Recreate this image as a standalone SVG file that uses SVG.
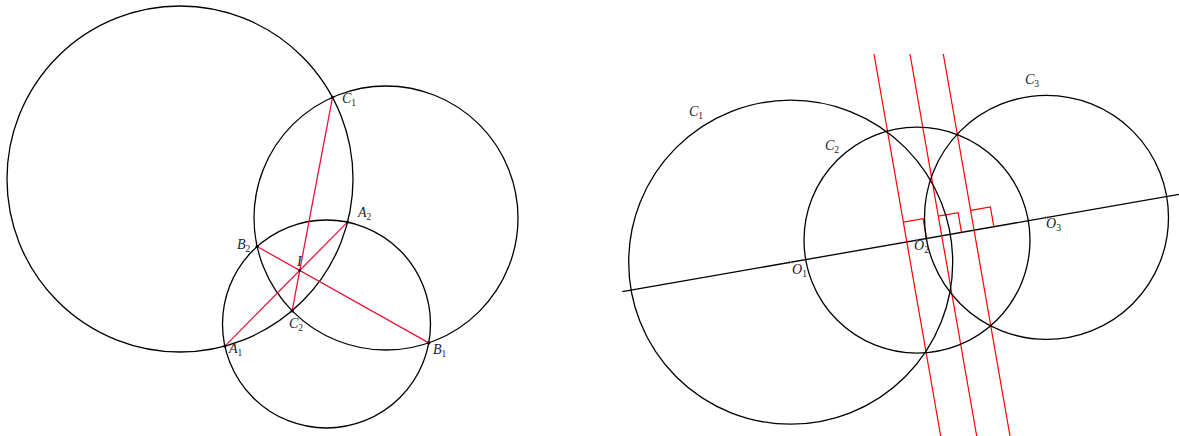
<svg xmlns="http://www.w3.org/2000/svg" width="1179" height="436" viewBox="0 0 1179 436">
<style>
.c{fill:none;stroke:#000;stroke-width:1.3}
.rl{stroke:#e8143c;stroke-width:1.3;fill:none}
.rr{stroke:#ff0000;stroke-width:1.2;fill:none}
.ax{stroke:#000;stroke-width:1.3}
.dot{fill:#000}
.lb{font-family:"Liberation Serif",serif;font-style:italic;font-size:14px;fill:#222}
.sb{font-size:9.5px;font-style:normal}
.mk{stroke:#777;stroke-width:0.8}
</style>
<rect width="1179" height="436" fill="#fff"/>
<!-- left figure -->
<g id="circle-big"><circle class="c" cx="180" cy="179" r="173"/></g>
<g id="circle-right"><circle class="c" cx="386" cy="218" r="132"/></g>
<g id="circle-bottom"><circle class="c" cx="326.5" cy="324" r="104"/></g>
<g id="connectors">
<line class="rl" x1="332.5" y1="97.3" x2="292.1" y2="310.8"/>
<line class="rl" x1="224.9" y1="346.1" x2="347.5" y2="222.1"/>
<line class="rl" x1="257.1" y1="246.5" x2="428.8" y2="342.9"/>
<line class="ax" x1="622.3" y1="291.7" x2="1179" y2="194.3"/>
<line class="rr" x1="874" y1="54" x2="940.7" y2="436"/>
<line class="rr" x1="910" y1="54" x2="976.7" y2="436"/>
<line class="rr" x1="943.3" y1="54" x2="1010" y2="436"/>
<polyline class="rr" points="903.4,222.2 923.1,218.7 926.5,238.5"/>
<polyline class="rr" points="938.4,216.1 958.1,212.7 961.5,232.4"/>
<polyline class="rr" points="970.7,210.4 990.4,206.9 993.8,226.7"/>
</g>
<g id="pt-C1"><circle class="dot" cx="332.5" cy="97.3" r="1.6"/><text class="lb" x="342" y="103">C<tspan class="sb" dy="3">1</tspan></text></g>
<g id="pt-A2"><circle class="dot" cx="347.5" cy="222.1" r="1.6"/><text class="lb" x="358" y="217">A<tspan class="sb" dy="3">2</tspan></text></g>
<g id="pt-B2"><circle class="dot" cx="257.1" cy="246.5" r="1.6"/><text class="lb" x="237" y="249">B<tspan class="sb" dy="3">2</tspan></text></g>
<g id="pt-I"><circle class="dot" cx="299.7" cy="270.4" r="1.3"/><text class="lb" x="297" y="266">I</text></g>
<g id="pt-C2"><circle class="dot" cx="292.1" cy="310.8" r="1.6"/><text class="lb" x="289" y="328">C<tspan class="sb" dy="3">2</tspan></text></g>
<g id="pt-A1"><circle class="dot" cx="224.9" cy="346.1" r="1.6"/><text class="lb" x="229" y="353">A<tspan class="sb" dy="3">1</tspan></text></g>
<g id="pt-B1"><circle class="dot" cx="428.8" cy="342.9" r="1.6"/><text class="lb" x="433" y="354">B<tspan class="sb" dy="3">1</tspan></text></g>
<!-- right figure -->
<g id="circle-C1"><circle class="c" cx="790.7" cy="262.2" r="162"/><text class="lb" x="689" y="116">C<tspan class="sb" dy="3">1</tspan></text></g>
<g id="circle-C2"><circle class="c" cx="917" cy="240.1" r="113"/><text class="lb" x="825" y="150">C<tspan class="sb" dy="3">2</tspan></text></g>
<g id="circle-C3"><circle class="c" cx="1046.5" cy="217.4" r="122"/><text class="lb" x="1025" y="84">C<tspan class="sb" dy="3">3</tspan></text></g>
<g id="pt-O1"><path class="mk" d="M789.2,260.7l3,3M792.2,260.7l-3,3"/><text class="lb" x="792" y="274">O<tspan class="sb" dy="3">1</tspan></text></g>
<g id="pt-O2"><path class="mk" d="M915.5,238.6l3,3M918.5,238.6l-3,3"/><text class="lb" x="914" y="250">O<tspan class="sb" dy="3">2</tspan></text></g>
<g id="pt-O3"><path class="mk" d="M1045,215.9l3,3M1048,215.9l-3,3"/><text class="lb" x="1046" y="228">O<tspan class="sb" dy="3">3</tspan></text></g>
</svg>
